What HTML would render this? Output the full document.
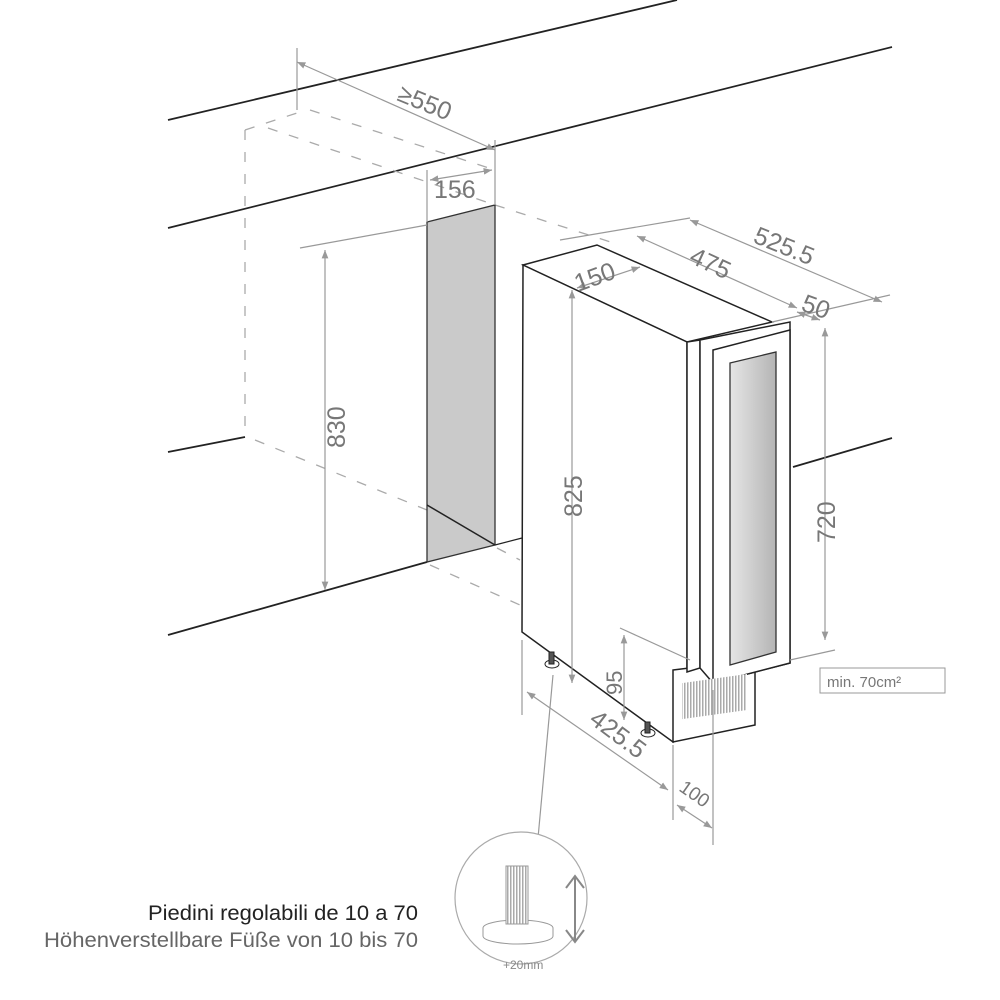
<!DOCTYPE html>
<html><head><meta charset="utf-8"><style>
html,body{margin:0;padding:0;background:#fff}
svg{display:block}
text{font-family:"Liberation Sans",sans-serif}
</style></head><body>
<svg width="1000" height="1000" viewBox="0 0 1000 1000" xmlns="http://www.w3.org/2000/svg">
<defs>
<marker id="a" viewBox="0 0 10 10" refX="10" refY="5" markerWidth="7" markerHeight="7" orient="auto-start-reverse"><path d="M0,1 L10,5 L0,9 z" fill="#999"/></marker>
<linearGradient id="g" x1="0" y1="0" x2="1" y2="0"><stop offset="0" stop-color="#e6e6e6"/><stop offset="1" stop-color="#b4b4b4"/></linearGradient>
<pattern id="h" width="3" height="4" patternUnits="userSpaceOnUse"><rect width="3" height="4" fill="#fff"/><rect width="1.5" height="4" fill="#aaa"/></pattern>
</defs>
<g stroke="#222" stroke-width="1.8" fill="none">
<line x1="168" y1="120" x2="677" y2="0"/>
<line x1="168" y1="228" x2="892" y2="47"/>
<line x1="168" y1="452" x2="245" y2="437"/>
<line x1="793" y1="467" x2="892" y2="438"/>
<line x1="168" y1="635" x2="427" y2="562"/>
</g>
<g stroke="#aaa" stroke-width="1.3" fill="none" stroke-dasharray="10,12">
<line x1="245" y1="130" x2="245" y2="437"/>
<line x1="245" y1="130" x2="300" y2="112"/>
<line x1="268" y1="128" x2="495" y2="205"/>
<line x1="310" y1="110" x2="495" y2="170"/>
<line x1="495" y1="205" x2="620" y2="245"/>
<line x1="255" y1="440" x2="427" y2="510"/>
<line x1="430" y1="565" x2="520" y2="605"/>
<line x1="497" y1="548" x2="520" y2="560"/>
</g>
<polygon points="427,222 495,205 495,545 427,562" fill="#cacaca" stroke="#333" stroke-width="1.3"/>
<line x1="427" y1="505" x2="495" y2="545" stroke="#222" stroke-width="1.5"/>
<line x1="495" y1="545" x2="522" y2="538" stroke="#222" stroke-width="1.3"/>
<g stroke="#222" stroke-width="1.5" fill="#fff">
<polygon points="523,265 597,245 772,322 687,342"/>
<polygon points="523,265 687,342 687,672 673,742 522,632"/>
<polygon points="673,670 755,660 755,725 673,742"/>
<polygon points="687,342 700,340 700,668 687,672"/>
<polygon points="700,340 790,322 790,663 713,683 700,668"/>
<polygon points="713,350 790,330 790,663 713,683"/>
</g>
<rect x="682" y="683" width="65" height="36" fill="url(#h)" transform="skewY(-8) translate(0,96)"/>
<polygon points="730,363 776,352 776,652 730,665" fill="url(#g)" stroke="#333" stroke-width="1.3"/>
<g stroke="#222" fill="#555"><ellipse cx="552" cy="664" rx="7" ry="4" fill="#fff"/><rect x="549" y="652" width="5" height="12"/><ellipse cx="648" cy="733" rx="7" ry="4" fill="#fff"/><rect x="645" y="722" width="5" height="11"/></g>
<g stroke="#999" stroke-width="1.2" fill="none">
<line x1="297" y1="48" x2="297" y2="110"/>
<line x1="495" y1="140" x2="495" y2="205"/>
<line x1="427" y1="170" x2="427" y2="222"/>
<line x1="297" y1="62" x2="495" y2="150" marker-start="url(#a)" marker-end="url(#a)"/>
<line x1="430" y1="180" x2="492" y2="170" marker-start="url(#a)" marker-end="url(#a)"/>
<line x1="300" y1="248" x2="427" y2="225"/>
<line x1="325" y1="250" x2="325" y2="590" marker-start="url(#a)" marker-end="url(#a)"/>
<line x1="572" y1="290" x2="572" y2="683" marker-start="url(#a)" marker-end="url(#a)"/>
<line x1="577" y1="288" x2="640" y2="267" marker-start="url(#a)" marker-end="url(#a)"/>
<line x1="560" y1="240" x2="690" y2="218"/>
<line x1="637" y1="236" x2="797" y2="308" marker-start="url(#a)" marker-end="url(#a)"/>
<line x1="690" y1="220" x2="882" y2="302" marker-start="url(#a)" marker-end="url(#a)"/>
<line x1="772" y1="322" x2="890" y2="295"/>
<line x1="797" y1="312" x2="820" y2="320" marker-start="url(#a)" marker-end="url(#a)"/>
<line x1="825" y1="328" x2="825" y2="640" marker-start="url(#a)" marker-end="url(#a)"/>
<line x1="790" y1="660" x2="835" y2="650"/>
<line x1="620" y1="628" x2="690" y2="660"/>
<line x1="624" y1="635" x2="624" y2="720" marker-start="url(#a)" marker-end="url(#a)"/>
<line x1="522" y1="640" x2="522" y2="715"/>
<line x1="673" y1="745" x2="673" y2="820"/>
<line x1="713" y1="690" x2="713" y2="845"/>
<line x1="527" y1="692" x2="668" y2="790" marker-start="url(#a)" marker-end="url(#a)"/>
<line x1="677" y1="805" x2="712" y2="828" marker-start="url(#a)" marker-end="url(#a)"/>
<line x1="553" y1="675" x2="538" y2="838"/>
</g>
<g fill="#777" font-size="25">
<text transform="translate(396,100) rotate(22)">≥550</text>
<text x="434" y="198" font-size="25">156</text>
<text transform="translate(345,448) rotate(-90)">830</text>
<text transform="translate(582,517) rotate(-90)">825</text>
<text transform="translate(578,292) rotate(-20)">150</text>
<text transform="translate(688,262) rotate(25)">475</text>
<text transform="translate(752,242) rotate(22)">525.5</text>
<text transform="translate(800,310) rotate(20)">50</text>
<text transform="translate(835,543) rotate(-90)">720</text>
<text transform="translate(622,695) rotate(-90)" font-size="22">95</text>
<text transform="translate(588,722) rotate(37)">425.5</text>
<text transform="translate(678,790) rotate(35)" font-size="19">100</text>
</g>
<rect x="820" y="668" width="125" height="25" fill="#fff" stroke="#999"/>
<text x="827" y="687" font-size="15" fill="#777">min. 70cm²</text>
<circle cx="521" cy="898" r="66" fill="#fff" stroke="#aaa" stroke-width="1.2"/>
<ellipse cx="518" cy="928" rx="35" ry="8" fill="#fff" stroke="#999"/>
<path d="M483,928 v8 a35,8 0 0 0 70,0 v-8" fill="#fff" stroke="#999"/>
<rect x="506" y="866" width="22" height="58" fill="url(#h)" stroke="#999"/>
<g stroke="#888" stroke-width="2" fill="none"><line x1="575" y1="876" x2="575" y2="942"/><polyline points="566,888 575,876 584,888"/><polyline points="566,930 575,942 584,930"/></g>
<text x="503" y="969" font-size="12" fill="#888">+20mm</text>
<text x="418" y="920" font-size="21" fill="#222" text-anchor="end" textLength="270" lengthAdjust="spacingAndGlyphs">Piedini regolabili de 10 a 70</text>
<text x="418" y="947" font-size="21" fill="#666" text-anchor="end" textLength="374" lengthAdjust="spacingAndGlyphs">Höhenverstellbare Füße von 10 bis 70</text>
</svg>
</body></html>
